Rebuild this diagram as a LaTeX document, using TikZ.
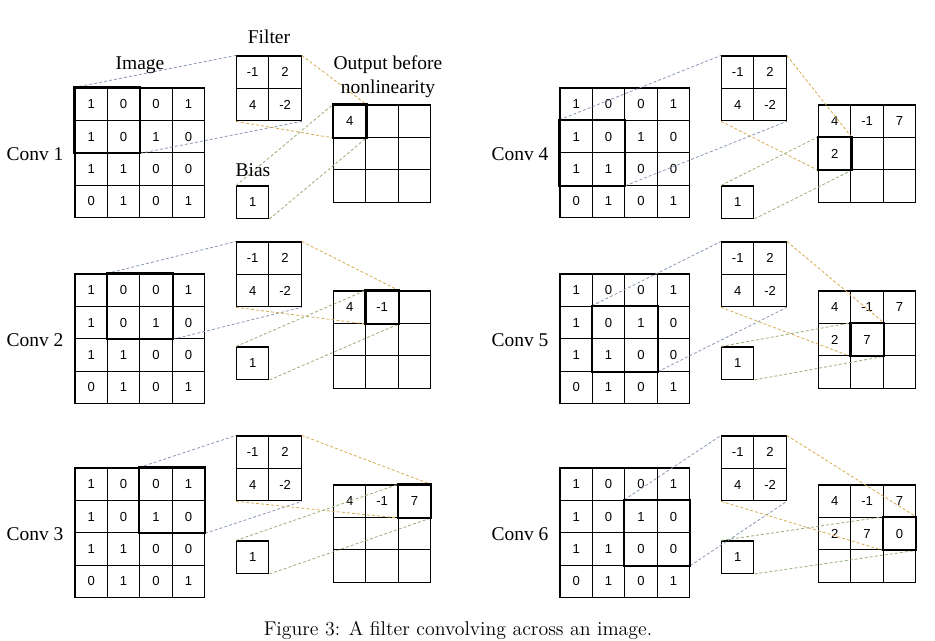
\documentclass[tikz,border=0pt]{standalone}
\usepackage{fontspec}
\usepackage{tikz}
\usetikzlibrary{positioning}
\newfontfamily\timesfont{Liberation Serif}
\newfontfamily\arialfont{Liberation Sans}
\definecolor{linkblue}{HTML}{8797B5}
\definecolor{linkorange}{HTML}{D6AA4E}
\definecolor{linkgreen}{HTML}{93AE76}

% one convolution step: #1 step, #2/#3 top left of the image, #4 bias offset
\newcommand{\convpanel}[4]{%
  \pgfmathtruncatemacro{\hr}{int((#1-1)/3)}%
  \pgfmathtruncatemacro{\hc}{mod(#1-1,3)}%
  \pgfmathtruncatemacro{\hrr}{\hr+1}%
  \pgfmathtruncatemacro{\hcc}{\hc+1}%
  \node[convlabel] (c#1) at ({#2-40},{#3+66}) {Conv #1};
  \foreach \row [count=\r from 0] in {{1,0,0,1},{1,0,1,0},{1,1,0,0},{0,1,0,1}}
    \foreach \v [count=\c from 0] in \row
      \node[cell] (i#1-\r-\c) at ({#2+16.2+32.4*\c},{#3+16.2+32.4*\r}) {\v};
  \foreach \row [count=\r from 0] in {{-1,2},{4,-2}}
    \foreach \v [count=\c from 0] in \row
      \node[cell] (f#1-\r-\c) at ({#2+177.7+32.4*\c},{#3-15.8+32.4*\r}) {\v};
  \node[cell] (b#1) at ({#2+177.7},{#3+#4+16.2}) {1};
  \foreach \v [count=\n from 0] in {4,-1,7,2,7,0,{},{},{}} {
    \pgfmathtruncatemacro{\orow}{int(\n/3)}
    \pgfmathtruncatemacro{\ocol}{mod(\n,3)}
    \node[cell] (o#1-\orow-\ocol) at ({#2+274.7+32.4*\ocol},{#3+33.2+32.4*\orow}) {\ifnum\n<#1\relax\v\fi};
  }
  % dashed links
  \draw[link, linkblue] (i#1-\hr-\hc.north west) -- (f#1-0-0.north west);
  \draw[link, linkblue] (i#1-\hrr-\hcc.south east) -- (f#1-1-1.south east);
  \draw[link, linkorange] (f#1-0-1.north east) -- (o#1-\hr-\hc.north east);
  \draw[link, linkorange] (f#1-1-0.south west) -- (o#1-\hr-\hc.south west);
  \draw[link, linkgreen] (b#1.north west) -- (o#1-\hr-\hc.north west);
  \draw[link, linkgreen] (b#1.south east) -- (o#1-\hr-\hc.south east);
  % current window
  \draw[window] (i#1-\hr-\hc.north west) rectangle (i#1-\hrr-\hcc.south east);
  \draw[window] (o#1-\hr-\hc.north west) rectangle (o#1-\hr-\hc.south east);
}

\begin{document}
\begin{tikzpicture}[x=0.75pt, y=-0.75pt,
    cell/.style={draw, line width=0.8pt, minimum size=24.3pt, inner sep=0pt,
      font=\arialfont\fontsize{9.8}{11}\selectfont},
    convlabel/.style={font=\timesfont\fontsize{14.6}{17.5}\selectfont},
    link/.style={line width=0.6pt, dash pattern=on 2.2pt off 1.6pt},
    window/.style={line width=1.7pt}]
  \useasboundingbox (0,0) rectangle (935,641);

  \convpanel{1}{75}{88}{98}
  \convpanel{2}{75}{274}{73}
  \convpanel{3}{75}{468}{73}
  \convpanel{4}{560}{88}{98}
  \convpanel{5}{560}{274}{73}
  \convpanel{6}{560}{468}{73}

  \node[convlabel] (imagelabel) at (140,65) {Image};
  \node[convlabel] (filterlabel) at (269,37) {Filter};
  \node[convlabel, align=center] (outlabel) at (388,77) {Output before\\[0.5pt]nonlinearity};
  \node[convlabel] (biaslabel) at (253,170) {Bias};

  \node[font=\fontsize{14.9}{18}\selectfont] (caption) at (458,630) {Figure 3: A filter convolving across an image.};
\end{tikzpicture}
\end{document}
